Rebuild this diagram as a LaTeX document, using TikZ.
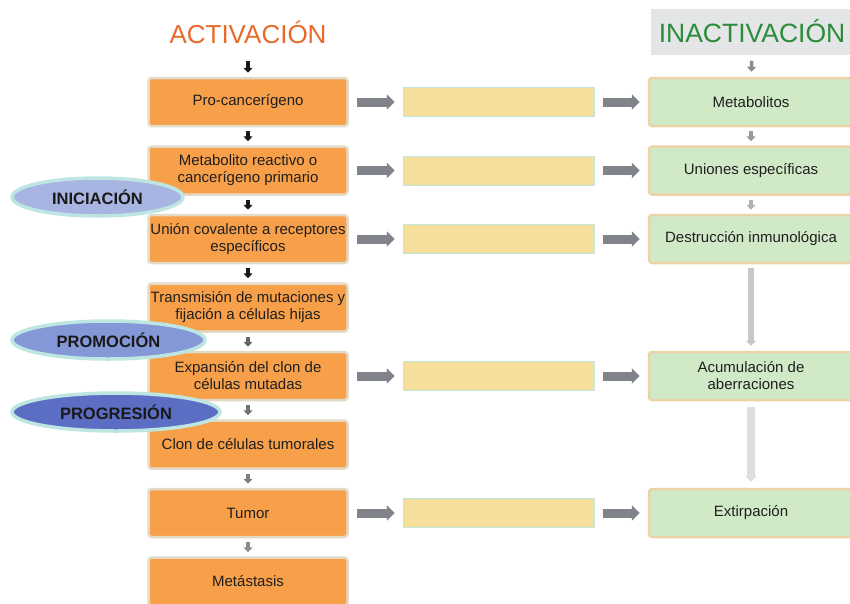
\documentclass[tikz,border=0pt]{standalone}
\usepackage{fontspec}
\setmainfont{Liberation Sans}
\usetikzlibrary{positioning}
\usetikzlibrary{arrows.meta}
\usetikzlibrary{shapes.geometric}
\definecolor{actfill}{HTML}{F7A049}
\definecolor{actline}{HTML}{E2DAC6}
\definecolor{inafill}{HTML}{D0EAC7}
\definecolor{inaline}{HTML}{EBD3A6}
\definecolor{midfill}{HTML}{F6DF9A}
\definecolor{midline}{HTML}{BEE5E2}
\definecolor{blockgray}{HTML}{808389}
\definecolor{acttitle}{HTML}{E8692A}
\definecolor{inatitle}{HTML}{2B8C3A}
\definecolor{titlebox}{HTML}{E4E5E7}
\definecolor{ovline}{HTML}{BDE6E3}
\definecolor{ovone}{HTML}{A8B4E2}
\definecolor{ovtwo}{HTML}{8497D6}
\definecolor{ovthree}{HTML}{5C6EC4}
\tikzset{
  actbox/.style={draw=actline,fill=actfill,line width=2.5pt,rounded corners=3pt,
    minimum width=199pt,minimum height=48pt,inner xsep=1pt,align=center,
    text=black!88,font=\fontsize{15}{17}\selectfont},
  inabox/.style={actbox,draw=inaline,fill=inafill},
  midbox/.style={draw=midline,fill=midfill,line width=1pt,minimum width=191pt,
    minimum height=29pt},
  phase/.style={ellipse,draw=ovline,line width=3.5pt,inner sep=0pt,
    minimum height=38pt,font=\fontsize{16.5}{18}\selectfont\bfseries,text=black!90},
  blockarr/.style={draw=blockgray,line width=9pt,
    -{Triangle[length=8pt,width=15pt]},shorten <=8pt,shorten >=8pt},
  downarr/.style={line width=3.5pt,-{Triangle[length=5pt,width=9pt]},
    shorten <=4pt,shorten >=4pt},
}
\begin{document}
\begin{tikzpicture}[x=1pt,y=-1pt,node distance=18pt]
  \useasboundingbox (0,0) rectangle (850,603);
  % activacion
  \node[text=acttitle,font=\fontsize{26}{28}\selectfont] (act) at (248,32) {ACTIVACIÓN};
  \coordinate (actin) at (248,61);
  \node[actbox] (pro) at (248,102) {Pro-cancerígeno};
  \node[actbox,below= of pro] (metab) {Metabolito reactivo o\\cancerígeno primario};
  \node[actbox,below= of metab] (union) {Unión covalente a receptores\\específicos};
  \node[actbox,below= of union] (trans) {Transmisión de mutaciones y\\fijación a células hijas};
  \node[actbox,below= of trans] (expan) {Expansión del clon de\\células mutadas};
  \node[actbox,below= of expan] (clon) {Clon de células tumorales};
  \node[actbox,below= of clon] (tumor) {Tumor};
  \node[actbox,below= of tumor] (meta) {Metástasis};
  % casillas del medio
  \node[midbox,right=54pt of pro] (m1) {};
  \node[midbox,right=54pt of metab] (m2) {};
  \node[midbox,right=54pt of union] (m3) {};
  \node[midbox,right=54pt of expan] (m5) {};
  \node[midbox,right=54pt of tumor] (m7) {};
  % inactivacion
  \node[inabox,minimum width=204pt,right=53pt of m1] (metbl) {Metabolitos};
  \node[inabox,minimum width=204pt,right=53pt of m2] (uniones) {Uniones específicas};
  \node[inabox,minimum width=204pt,right=53pt of m3] (destr) {Destrucción inmunológica};
  \node[inabox,minimum width=204pt,right=53pt of m5] (acum) {Acumulación de\\aberraciones};
  \node[inabox,minimum width=204pt,right=53pt of m7] (extir) {Extirpación};
  \node[fill=titlebox,minimum width=202pt,minimum height=46pt,text=inatitle,
    font=\fontsize{26.5}{28}\selectfont,above=22pt of metbl,xshift=1pt] (inact) {INACTIVACIÓN};
  % flechas
  \draw[downarr,black!90,shorten <=0pt] (actin)--(pro);
  \draw[downarr,black!90] (pro)--(metab);
  \draw[downarr,black!90] (metab)--(union);
  \draw[downarr,black!90] (union)--(trans);
  \draw[downarr,black!60] (trans)--(expan);
  \draw[downarr,black!55] (expan)--(clon);
  \draw[downarr,black!50] (clon)--(tumor);
  \draw[downarr,black!45] (tumor)--(meta);
  \draw[blockarr] (pro)--(m1);
  \draw[blockarr] (m1)--(metbl);
  \draw[blockarr] (metab)--(m2);
  \draw[blockarr] (m2)--(uniones);
  \draw[blockarr] (union)--(m3);
  \draw[blockarr] (m3)--(destr);
  \draw[blockarr] (expan)--(m5);
  \draw[blockarr] (m5)--(acum);
  \draw[blockarr] (tumor)--(m7);
  \draw[blockarr] (m7)--(extir);
  \draw[downarr,black!45,shorten <=6pt,shorten >=5pt] (inact)--(metbl);
  \draw[downarr,black!40] (metbl)--(uniones);
  \draw[downarr,black!30] (uniones)--(destr);
  \draw[black!22,line width=6pt,-{Triangle[length=5pt,width=10pt]},
    shorten <=4pt,shorten >=5pt] (destr)--(acum);
  \draw[black!13,line width=8pt,-{Triangle[length=6pt,width=12pt]},
    shorten <=6pt,shorten >=6pt] (acum)--(extir);
  % fases
  \node[phase,fill=ovone,minimum width=171pt] (inic) at (97.5,197) {INICIACIÓN};
  \node[phase,fill=ovtwo,minimum width=193pt] (promo) at (108.5,340) {PROMOCIÓN};
  \node[phase,fill=ovthree,minimum width=208pt] (progr) at (116,412) {PROGRESIÓN};
\end{tikzpicture}
\end{document}
